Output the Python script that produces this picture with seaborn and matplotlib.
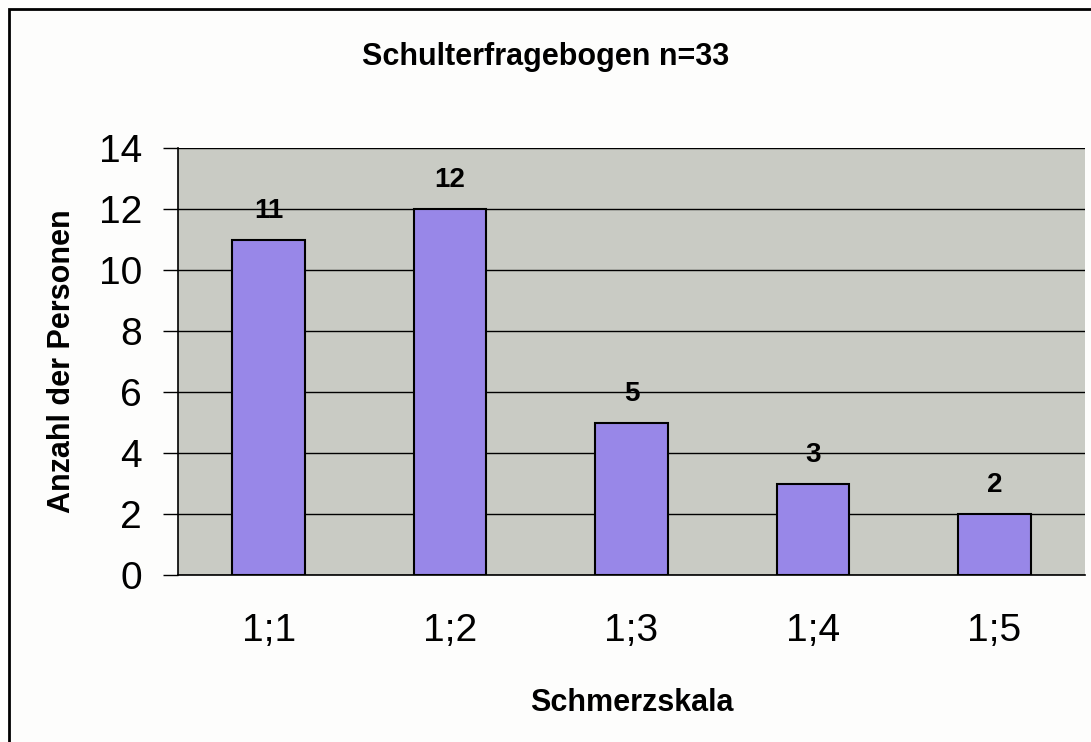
import pandas as pd
import numpy as np
import matplotlib
matplotlib.use("Agg")
import matplotlib.pyplot as plt
import seaborn as sns
from matplotlib.patches import Rectangle

categories = ["1;1", "1;2", "1;3", "1;4", "1;5"]
personen = [11, 12, 5, 3, 2]
y_ticks = [0, 2, 4, 6, 8, 10, 12, 14]

df = pd.DataFrame({"skala": categories, "anzahl": personen})

sns.set_style("white")
plt.rcParams['font.family'] = ['Liberation Sans', 'DejaVu Sans']
plt.rcParams['text.color'] = 'black'
plt.rcParams['axes.labelcolor'] = 'black'
plt.rcParams['xtick.color'] = 'black'
plt.rcParams['ytick.color'] = 'black'

fig = plt.figure(figsize=(10.91, 7.42), dpi=100, facecolor="#fdfdfc")
ax = fig.add_axes([178 / 1091, 1 - 575 / 742, 907 / 1091, 427 / 742])
ax.set_facecolor("#c9cbc4")

sns.barplot(data=df, x="skala", y="anzahl", order=categories, color="#9887e8",
            saturation=1, width=0.4, edgecolor="black", linewidth=1.5, ax=ax, zorder=3)

for i, v in enumerate(personen):
    ax.text(i, v + 0.95, str(v), ha="center", va="center", fontsize=20,
            fontweight="bold", zorder=4)

ax.set_ylim(0, 14)
ax.set_xlim(-0.5, len(categories) - 0.5)
ax.set_yticks(y_ticks)
ax.set_yticklabels([str(t) for t in y_ticks], fontsize=28)
ax.yaxis.grid(True, color="black", linewidth=1)
ax.set_axisbelow(True)

ax.set_xticks(range(len(categories)))
ax.set_xticklabels(categories, fontsize=28)
ax.set_xticks(np.arange(-0.5, len(categories)), minor=True)
ax.tick_params(axis="x", which="major", length=0, pad=27)
ax.tick_params(axis="x", which="minor", length=11, width=1, color="black", direction="out")
ax.tick_params(axis="y", length=11, width=1, color="black", direction="out", pad=15, left=True)

for s in ["top", "right"]:
    ax.spines[s].set_visible(False)
for s in ["left", "bottom"]:
    ax.spines[s].set_color("black")
    ax.spines[s].set_linewidth(1.2)

ax.set_xlabel("Schmerzskala", fontsize=22, fontweight="bold")
ax.set_ylabel("Anzahl der Personen", fontsize=22, fontweight="bold")
ax.xaxis.set_label_coords(0.5, (575 - 703) / 427)
ax.yaxis.set_label_coords((62 - 178) / 907, 0.5)
for lab in (ax.xaxis.label, ax.yaxis.label):
    lab.set_verticalalignment("center")
fig.text(0.5, 1 - 57 / 742, "Schulterfragebogen n=33", ha="center", va="center",
         fontsize=22, fontweight="bold")

fig.patches.append(Rectangle((9 / 1091, -0.1), 1.2, 1 - 9 / 742 + 0.1,
                             transform=fig.transFigure, fill=False,
                             edgecolor="black", linewidth=2))

fig.savefig("out.png", dpi=100, facecolor=fig.get_facecolor())
